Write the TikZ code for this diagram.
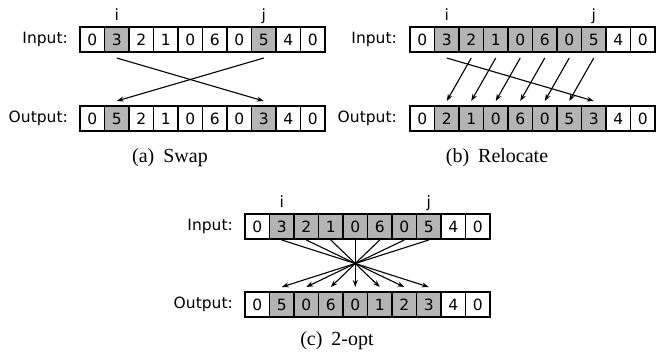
\documentclass[tikz,border=0pt]{standalone}
\usepackage{fontspec}
\setsansfont{DejaVu Sans}
\newfontfamily\capfont{Liberation Serif}
\usetikzlibrary{arrows.meta}
\definecolor{selgray}{RGB}{180,180,180}
\tikzset{
  cell/.style={draw,line width=1.5pt,minimum width=24.5pt,minimum height=25pt,
    inner sep=0pt,outer sep=0pt,font=\sffamily\fontsize{15.5}{18}\selectfont},
  sel/.style={cell,fill=selgray},
  rowlabel/.style={anchor=east,inner sep=0pt,font=\sffamily\fontsize{15.5}{18}\selectfont},
  idx/.style={anchor=base,inner sep=0pt,font=\sffamily\fontsize{15.5}{18}\selectfont},
  caption/.style={anchor=base,inner sep=0pt,font=\capfont\fontsize{20}{24}\selectfont},
  move/.style={-{Stealth[length=7pt,width=5pt]},line width=1.1pt}
}
\begin{document}
\begin{tikzpicture}[x=1pt,y=-1pt]
  \useasboundingbox (0,0) rectangle (672,351);

  % (a) swap
  \node[rowlabel] (sinlab) at (68,39.5) {Input:};
  \node[rowlabel] (soutlab) at (68,118.5) {Output:};
  \foreach \v/\s [count=\k from 0] in {0/cell,3/sel,2/cell,1/cell,0/cell,6/cell,0/cell,5/sel,4/cell,0/cell}
    \node[\s] (sin\k) at (92.25+24.5*\k,39.5) {\v};
  \foreach \v/\s [count=\k from 0] in {0/cell,5/sel,2/cell,1/cell,0/cell,6/cell,0/cell,3/sel,4/cell,0/cell}
    \node[\s] (sout\k) at (92.25+24.5*\k,118.5) {\v};
  \node[idx] (si) at (116.75,20) {i};
  \node[idx] (sj) at (263.75,20) {j};
  \node[caption] (scap) at (170,162) {(a)\hspace{0.45em}Swap};

  \path[move]
    ([yshift=-6pt]sin1.south) edge ([yshift=5pt]sout7.north)
    ([yshift=-6pt]sin7.south) edge ([yshift=5pt]sout1.north)
    ;

  % (b) relocate
  \node[rowlabel] (rinlab) at (397,39.5) {Input:};
  \node[rowlabel] (routlab) at (397,118.5) {Output:};
  \foreach \v/\s [count=\k from 0] in {0/cell,3/sel,2/sel,1/sel,0/sel,6/sel,0/sel,5/sel,4/cell,0/cell}
    \node[\s] (rin\k) at (422.25+24.5*\k,39.5) {\v};
  \foreach \v/\s [count=\k from 0] in {0/cell,2/sel,1/sel,0/sel,6/sel,0/sel,5/sel,3/sel,4/cell,0/cell}
    \node[\s] (rout\k) at (422.25+24.5*\k,118.5) {\v};
  \node[idx] (ri) at (446.75,20) {i};
  \node[idx] (rj) at (593.75,20) {j};
  \node[caption] (rcap) at (497,162) {(b)\hspace{0.45em}Relocate};

  \path[move]
    ([yshift=-6pt]rin1.south) edge ([yshift=5pt]rout7.north)
    ([yshift=-6pt]rin2.south) edge ([yshift=5pt]rout1.north)
    ([yshift=-6pt]rin3.south) edge ([yshift=5pt]rout2.north)
    ([yshift=-6pt]rin4.south) edge ([yshift=5pt]rout3.north)
    ([yshift=-6pt]rin5.south) edge ([yshift=5pt]rout4.north)
    ([yshift=-6pt]rin6.south) edge ([yshift=5pt]rout5.north)
    ([yshift=-6pt]rin7.south) edge ([yshift=5pt]rout6.north)
    ;

  % (c) 2-opt
  \node[rowlabel] (tinlab) at (233,226.5) {Input:};
  \node[rowlabel] (toutlab) at (233,304.5) {Output:};
  \foreach \v/\s [count=\k from 0] in {0/cell,3/sel,2/sel,1/sel,0/sel,6/sel,0/sel,5/sel,4/cell,0/cell}
    \node[\s] (tin\k) at (257.25+24.5*\k,226.5) {\v};
  \foreach \v/\s [count=\k from 0] in {0/cell,5/sel,0/sel,6/sel,0/sel,1/sel,2/sel,3/sel,4/cell,0/cell}
    \node[\s] (tout\k) at (257.25+24.5*\k,304.5) {\v};
  \node[idx] (ti) at (281.75,207) {i};
  \node[idx] (tj) at (428.75,207) {j};
  \node[caption] (tcap) at (337,345) {(c)\hspace{0.45em}2-opt};

  \foreach \k [evaluate=\k as \m using int(8-\k)] in {1,...,7}
    \draw[move] ([yshift=-1pt]tin\k.south) -- ([yshift=5pt]tout\m.north);

\end{tikzpicture}
\end{document}
